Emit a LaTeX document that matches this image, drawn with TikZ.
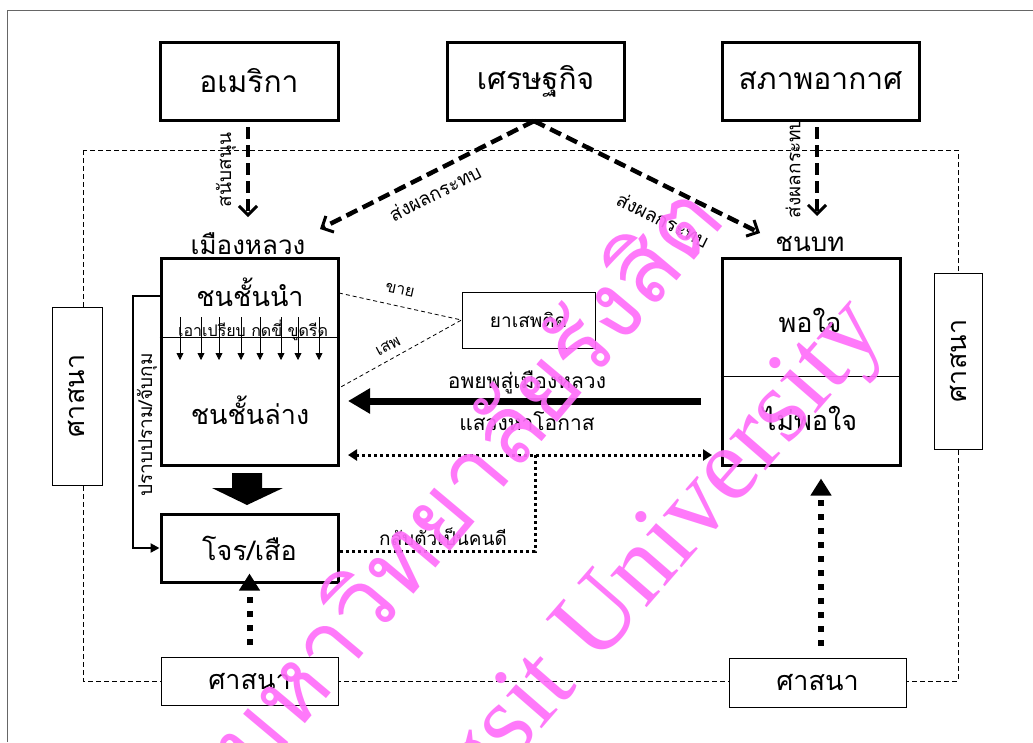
\documentclass[tikz,border=0pt]{standalone}
\usepackage{fontspec}
\newfontfamily\thai[Script=Thai]{Loma}
\newfontfamily\wmlatin{Liberation Serif}
\usetikzlibrary{arrows.meta}
\definecolor{wmpink}{RGB}{255,110,250}
\tikzset{
  ttop/.style={font=\thai\fontsize{30}{32}\selectfont},
  tbig/.style={font=\thai\fontsize{27}{29}\selectfont},
  tmid/.style={font=\thai\fontsize{26}{28}\selectfont},
  tmig/.style={font=\thai\fontsize{21}{23}\selectfont},
  tsm/.style={font=\thai\fontsize{19}{21}\selectfont},
  txs/.style={font=\thai\fontsize{16}{18}\selectfont},
  heavybox/.style={draw, line width=3pt, fill=white, inner sep=0pt},
  lightbox/.style={draw, line width=1pt, fill=white, inner sep=0pt},
  dasharr/.style={line width=4.5pt, dash pattern=on 12pt off 6pt, -{Straight Barb[length=9pt,width=18pt,line width=3pt]}},
  thindash/.style={line width=0.8pt, dash pattern=on 4pt off 3pt},
  framedash/.style={line width=0.9pt, dash pattern=on 5pt off 3pt},
  bigarr/.style={line width=7pt, -{Triangle[length=22pt,width=24pt]}},
  dotarr/.style={line width=3pt, dash pattern=on 3pt off 3pt, {Triangle[length=9pt,width=11pt]}-{Triangle[length=9pt,width=11pt]}},
  dotline/.style={line width=3pt, dash pattern=on 3pt off 3pt},
  fatdot/.style={line width=6pt, dash pattern=on 6pt off 8pt, -{Triangle[length=17pt,width=20pt]}},
  smallarr/.style={line width=0.8pt, -{Triangle[length=7pt,width=7pt]}},
  catcharr/.style={line width=2.5pt, -{Triangle[length=9pt,width=9pt]}},
  wm/.style={text=wmpink, opacity=0.92, inner sep=0pt},
}
\begin{document}
\begin{tikzpicture}[x=1pt,y=1pt]
\useasboundingbox (0,0) rectangle (1033,-742);
% outer frame
\draw[gray!80!black, line width=1pt] (7,-742) -- (7,-10) -- (1033,-10);
% inner dashed frame
\draw[framedash] (83,-150) rectangle (958,-681);

% top boxes
\node[heavybox, ttop, minimum width=178pt, minimum height=78pt] (usa) at (249,-81) {อเมริกา};
\node[heavybox, ttop, minimum width=177pt, minimum height=78pt] (eco) at (535.5,-81) {เศรษฐกิจ};
\node[heavybox, ttop, minimum width=197pt, minimum height=78pt] (wea) at (820.5,-81) {สภาพอากาศ};

% main boxes
\node[heavybox, minimum width=177pt, minimum height=207pt] (city) at (249.5,-361.5) {};
\node[heavybox, minimum width=178pt, minimum height=207pt] (rural) at (811,-361.5) {};
\node[heavybox, tbig, minimum width=177pt, minimum height=68pt] (bandit) at (249.5,-548) {โจร/เสือ};
\node[lightbox, tsm, minimum width=133pt, minimum height=56pt] (drug) at (528.5,-320) {ยาเสพติด};

% religion boxes
\node[lightbox, minimum width=50pt, minimum height=178pt] (relL) at (77,-396) {};
\node[tbig, rotate=90] (relLt) at (relL) {ศาสนา};
\node[lightbox, minimum width=48pt, minimum height=176pt] (relR) at (958,-361) {};
\node[tbig, rotate=90] (relRt) at (relR) {ศาสนา};
\node[lightbox, tbig, minimum width=177pt, minimum height=48pt] (relBL) at (249.5,-681.5) {ศาสนา};
\node[lightbox, tbig, minimum width=177pt, minimum height=49pt] (relBR) at (817.5,-682.5) {ศาสนา};

% area labels
\node[tmid] (lblcity) at (248,-244) {เมืองหลวง};
\node[tmid] (lblrural) at (810,-244) {ชนบท};

% inside city box
\node[tbig] (elite) at (250,-292) {ชนชั้นนำ};
\node[tbig] (lower) at (250,-410) {ชนชั้นล่าง};
\draw[line width=0.8pt] (city.west |- 0,-337) -- (city.east |- 0,-337);
\foreach \xx in {180,201,219,241,260,281,298,319}
  \draw[smallarr] (\xx,-317) -- (\xx,-360);
\node[txs, inner sep=0pt, anchor=base] (exploit) at (253,-336) {เอาเปรียบ กดขี่ ขูดรีด};

% inside rural box
\draw[line width=0.8pt] (rural.west |- 0,-376) -- (rural.east |- 0,-376);
\node[tbig] (sat) at (810,-320) {พอใจ};
\node[tbig] (unsat) at (810,-418) {ไม่พอใจ};

% coordinates for free ends
\coordinate (usaS) at (248,-127);
\coordinate (cityT) at (248,-217);
\coordinate (ecoS) at (534,-121);
\coordinate (cityTip) at (320,-229);
\coordinate (ruralTip) at (760,-233);
\coordinate (weaS) at (817,-127);
\coordinate (ruralT) at (817,-216);
\coordinate (sell) at (339,-293);
\coordinate (use) at (339,-388);
\coordinate (migS) at (701,-401);
\coordinate (migE) at (348,-401);
\coordinate (dotL) at (348,-455);
\coordinate (dotR) at (712,-455);
\coordinate (dotM) at (535,-455);
\coordinate (dotB) at (535,-551);
\coordinate (banditE) at (339,-551);
\coordinate (catch0) at (161,-296);
\coordinate (catch1) at (133,-296);
\coordinate (catch2) at (133,-548);

% external influences
\draw[dasharr] (usaS) -- (cityT);
\node[tsm, rotate=90] (support) at (226,-170) {สนับสนุน};
\draw[dasharr] (ecoS) -- (cityTip);
\draw[dasharr] (ecoS) -- (ruralTip);
\node[tsm, rotate=27] (effL) at (435,-193) {ส่งผลกระทบ};
\node[tsm, rotate=-26.5] (effR) at (663,-220) {ส่งผลกระทบ};
\draw[dasharr] (weaS) -- (ruralT);
\node[tsm, rotate=90] (effW) at (793,-168) {ส่งผลกระทบ};

% drugs
\draw[thindash] (sell) -- (drug.west) -- (use);
\node[txs, rotate=-12] (selllbl) at (400,-290) {ขาย};
\node[txs, rotate=28] (uselbl) at (388,-346) {เสพ};

% migration
\draw[bigarr] (migS) -- (migE);
\node[tmig] (miglbl1) at (527,-382) {อพยพสู่เมืองหลวง};
\node[tmig] (miglbl2) at (527,-421) {แสวงหาโอกาส};

% dotted links
\draw[dotarr] (dotL) -- (dotR);
\draw[dotline] (dotM) -- (dotB) -- (banditE);
\node[tsm] (reform) at (443,-537) {กลับตัวเป็นคนดี};

% suppression
\draw[catcharr] (catch0) -- (catch1) -- (catch2) -- (bandit.west);
\node[tsm, rotate=90] (catchlbl) at (147,-425) {ปราบปราม/จับกุม};

% block arrow
\fill (232,-473) -- (262,-473) -- (262,-488) -- (283,-488) -- (247,-505) -- (212,-488) -- (232,-488) -- cycle;

% religion influence
\draw[fatdot] ([yshift=12pt]relBL.north) -- ([yshift=10pt]bandit.south);
\draw[fatdot] ([xshift=3.5pt,yshift=12pt]relBR.north) -- ([xshift=10pt,yshift=-12pt]rural.south);

% watermark
\node[wm, rotate=50, font=\thai\fontsize{95}{95}\selectfont] (wm1) at (462,-478) {มหาวิทยาลัยรังสิต};
\node[wm, rotate=49, font=\wmlatin\fontsize{105}{105}\selectfont] (wm2) at (610,-615) {Rangsit University};
\end{tikzpicture}
\end{document}
